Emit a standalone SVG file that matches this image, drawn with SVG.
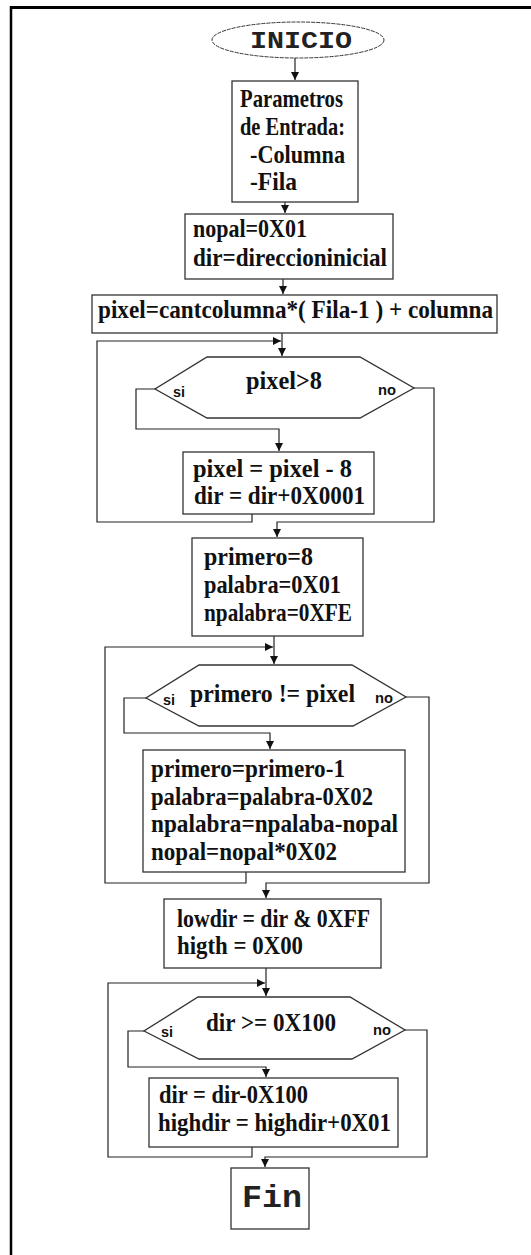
<svg xmlns="http://www.w3.org/2000/svg" width="531" height="1255" viewBox="0 0 531 1255">
<style>
.box{fill:#fff;stroke:#333;stroke-width:1.3}
.ln{fill:none;stroke:#222;stroke-width:1.2}
.t{font-family:"Liberation Serif","DejaVu Serif",serif;font-weight:bold;font-size:25px;fill:#111}
.m{font-family:"Liberation Mono","DejaVu Sans Mono",monospace;font-weight:bold;fill:#222}
.s{font-family:"Liberation Sans","DejaVu Sans",sans-serif;font-weight:bold;font-size:15px;fill:#111}
</style>
<defs>
<marker id="ah" markerUnits="userSpaceOnUse" markerWidth="10" markerHeight="10" refX="8" refY="5" orient="auto">
<path d="M0,1 L8,5 L0,9 Z" fill="#111"/>
</marker>
</defs>
<rect width="531" height="1255" fill="#fff"/>
<g id="frame">
<line x1="10" y1="7.5" x2="531" y2="7.5" stroke="#000" stroke-width="3"/>
<line x1="11" y1="6" x2="11" y2="1255" stroke="#000" stroke-width="2.5"/>
</g>
<g id="connectors">
<path class="ln" d="M295,58 V80" marker-end="url(#ah)"/>
<path class="ln" d="M285,202 V213" marker-end="url(#ah)"/>
<path class="ln" d="M283,279 V294" marker-end="url(#ah)"/>
<path class="ln" d="M282,333 V356" marker-end="url(#ah)"/>
<path class="ln" d="M252,514 V522 H97 V341 H281" marker-end="url(#ah)"/>
<path class="ln" d="M155,389 H136 V429 H279 V451" marker-end="url(#ah)"/>
<path class="ln" d="M414,388 H434 V522 H277 V537" marker-end="url(#ah)"/>
<path class="ln" d="M274,636 V664" marker-end="url(#ah)"/>
<path class="ln" d="M246,872 V883 H105 V647 H273" marker-end="url(#ah)"/>
<path class="ln" d="M146,698 H124 V733 H270 V749" marker-end="url(#ah)"/>
<path class="ln" d="M406,697 H429 V883 H266 V898" marker-end="url(#ah)"/>
<path class="ln" d="M266,968 V996" marker-end="url(#ah)"/>
<path class="ln" d="M252,1147 V1157 H108 V983 H265" marker-end="url(#ah)"/>
<path class="ln" d="M144,1031 H128 V1067 H266 V1077" marker-end="url(#ah)"/>
<path class="ln" d="M405,1030 H427 V1157 H265 V1167" marker-end="url(#ah)"/>
</g>
<g id="inicio">
<ellipse cx="298" cy="40" rx="86" ry="18" fill="#fff" stroke="#333" stroke-width="1" stroke-dasharray="4,1"/>
<text class="m" x="250" y="48" font-size="24" textLength="102" lengthAdjust="spacingAndGlyphs">INICIO</text>
</g>
<g id="parametros">
<rect class="box" x="232" y="81" width="126" height="121"/>
<text class="t" x="240" y="107" textLength="103" lengthAdjust="spacingAndGlyphs">Parametros</text>
<text class="t" x="240" y="135" textLength="105" lengthAdjust="spacingAndGlyphs">de Entrada:</text>
<text class="t" x="250" y="163" textLength="95" lengthAdjust="spacingAndGlyphs">-Columna</text>
<text class="t" x="250" y="190" textLength="47" lengthAdjust="spacingAndGlyphs">-Fila</text>
</g>
<g id="init">
<rect class="box" x="185" y="214" width="208" height="65"/>
<text class="t" x="193" y="237" textLength="114" lengthAdjust="spacingAndGlyphs">nopal=0X01</text>
<text class="t" x="193" y="266" textLength="194" lengthAdjust="spacingAndGlyphs">dir=direccioninicial</text>
</g>
<g id="pixelcalc">
<rect class="box" x="92" y="295" width="405" height="38"/>
<text class="t" x="98" y="318" textLength="395" lengthAdjust="spacingAndGlyphs">pixel=cantcolumna*( Fila-1 ) +  columna</text>
</g>
<g id="dec1">
<polygon class="box" points="207,357 360,357 414,388 360,418 207,418 155,389"/>
<text class="t" x="246" y="389" textLength="76" lengthAdjust="spacingAndGlyphs">pixel&gt;8</text>
<text class="s" x="173" y="397" textLength="12" lengthAdjust="spacingAndGlyphs">si</text>
<text class="s" x="378" y="395" textLength="18" lengthAdjust="spacingAndGlyphs">no</text>
</g>
<g id="sub8">
<rect class="box" x="183" y="452" width="191" height="62"/>
<text class="t" x="193" y="477" textLength="159" lengthAdjust="spacingAndGlyphs">pixel = pixel - 8</text>
<text class="t" x="194" y="504" textLength="171" lengthAdjust="spacingAndGlyphs">dir = dir+0X0001</text>
</g>
<g id="init2">
<rect class="box" x="192" y="538" width="171" height="98"/>
<text class="t" x="204" y="565" textLength="109" lengthAdjust="spacingAndGlyphs">primero=8</text>
<text class="t" x="204" y="593" textLength="137" lengthAdjust="spacingAndGlyphs">palabra=0X01</text>
<text class="t" x="204" y="621" textLength="148" lengthAdjust="spacingAndGlyphs">npalabra=0XFE</text>
</g>
<g id="dec2">
<polygon class="box" points="199,665 352,665 406,697 353,726 199,726 146,698"/>
<text class="t" x="190" y="702" textLength="165" lengthAdjust="spacingAndGlyphs">primero != pixel</text>
<text class="s" x="163" y="705" textLength="12" lengthAdjust="spacingAndGlyphs">si</text>
<text class="s" x="375" y="703" textLength="18" lengthAdjust="spacingAndGlyphs">no</text>
</g>
<g id="loop2body">
<rect class="box" x="143" y="750" width="262" height="122"/>
<text class="t" x="151" y="777" textLength="194" lengthAdjust="spacingAndGlyphs">primero=primero-1</text>
<text class="t" x="151" y="805" textLength="222" lengthAdjust="spacingAndGlyphs">palabra=palabra-0X02</text>
<text class="t" x="151" y="832" textLength="247" lengthAdjust="spacingAndGlyphs">npalabra=npalaba-nopal</text>
<text class="t" x="151" y="860" textLength="186" lengthAdjust="spacingAndGlyphs">nopal=nopal*0X02</text>
</g>
<g id="lowdir">
<rect class="box" x="164" y="899" width="217" height="69"/>
<text class="t" x="177" y="927" textLength="193" lengthAdjust="spacingAndGlyphs">lowdir = dir &amp; 0XFF</text>
<text class="t" x="177" y="954" textLength="126" lengthAdjust="spacingAndGlyphs">higth = 0X00</text>
</g>
<g id="dec3">
<polygon class="box" points="198,997 350,997 405,1030 352,1059 199,1059 144,1031"/>
<text class="t" x="206" y="1031" textLength="130" lengthAdjust="spacingAndGlyphs">dir &gt;= 0X100</text>
<text class="s" x="161" y="1037" textLength="12" lengthAdjust="spacingAndGlyphs">si</text>
<text class="s" x="373" y="1035" textLength="18" lengthAdjust="spacingAndGlyphs">no</text>
</g>
<g id="highdir">
<rect class="box" x="149" y="1078" width="249" height="69"/>
<text class="t" x="159" y="1103" textLength="149" lengthAdjust="spacingAndGlyphs">dir = dir-0X100</text>
<text class="t" x="158" y="1131" textLength="233" lengthAdjust="spacingAndGlyphs">highdir = highdir+0X01</text>
</g>
<g id="fin">
<rect class="box" x="231" y="1168" width="78" height="61"/>
<text class="m" x="242" y="1207" font-size="32" textLength="60" lengthAdjust="spacingAndGlyphs">Fin</text>
</g>
</svg>
